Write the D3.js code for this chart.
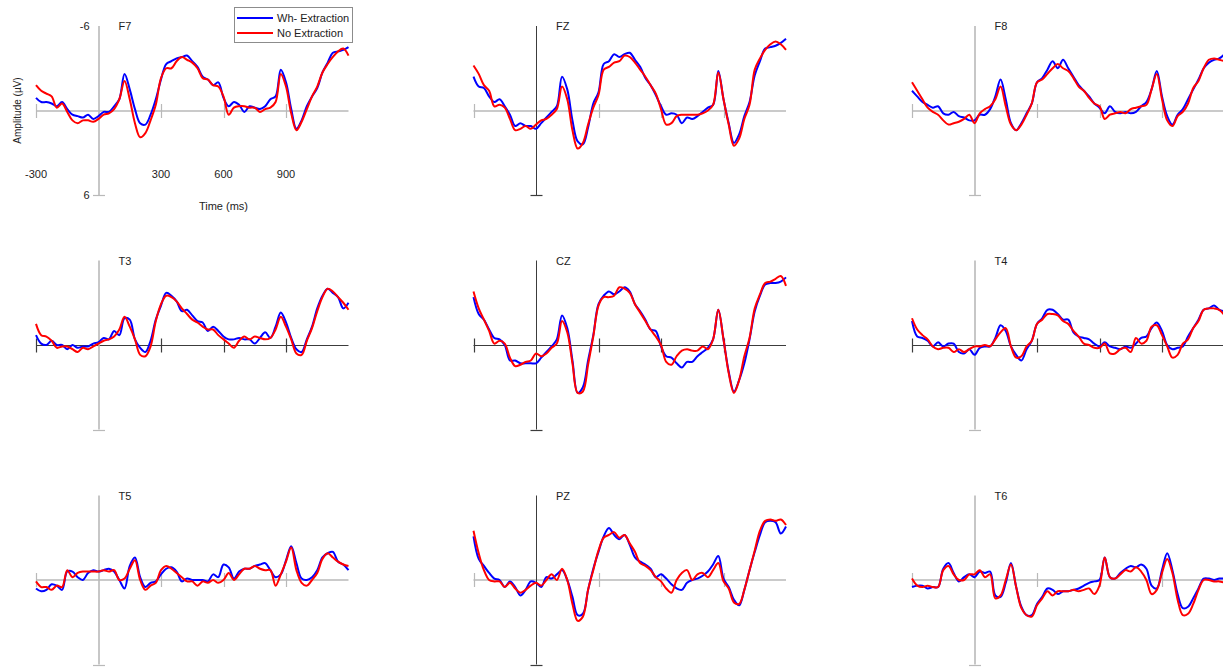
<!DOCTYPE html>
<html>
<head>
<meta charset="utf-8">
<script src="https://cdn.jsdelivr.net/npm/d3@7"></script>
<style>
    body { margin: 0; background: #fff; }
    svg { display: block; font-family: "Liberation Sans", Arial, sans-serif; }
</style>
</head>
<body>
<svg id="chart" width="1223" height="669"></svg>
<script>
// Sampling grid of the averaged waveforms (ms)
const TIMES = d3.range(-300, 1201, 25);

const CHANNELS = ["F7", "FZ", "F8", "T3", "CZ", "T4", "T5", "PZ", "T6"];
const CONDITIONS = ["Wh- Extraction", "No Extraction"];
const X_TICKS = [-300, 300, 600, 900];
const Y_TICKS = [-6, 6];

// Amplitudes in microvolts, one value per TIMES entry (negative is plotted up)
const f7Wh = [-0.9,-0.6,-0.6,-0.5,-0.3,-0.6,-0.1,0.3,0.4,0.5,0.3,0.6,0.4,0.1,0.1,-0.3,-0.8,-2.6,-1.5,-0.1,0.9,1.0,0.3,-0.8,-2.2,-3.3,-3.5,-3.7,-3.8,-3.9,-3.5,-3.1,-2.4,-2.2,-1.8,-2.0,-0.9,-0.3,-0.6,-0.4,0.1,-0.3,-0.2,-0.1,-0.3,-0.8,-1.0,-2.9,-2.0,-0.1,1.3,0.7,-0.3,-1.0,-1.6,-2.7,-3.4,-4.1,-4.2,-4.3,-4.5];
const f7No = [-1.8,-1.4,-1.2,-1.0,-0.2,-0.5,0.1,0.7,0.9,0.7,0.7,0.8,0.6,0.3,0.2,-0.1,-0.8,-2.1,-0.8,0.9,1.9,1.6,0.7,-0.4,-2.3,-3.0,-3.0,-3.5,-3.8,-3.6,-3.4,-3.0,-2.3,-2.2,-1.8,-1.7,-1.0,0.3,-0.2,-0.3,-0.3,-0.2,-0.2,0.1,-0.1,-0.2,-0.6,-2.6,-1.7,0.2,1.4,0.8,-0.1,-1.0,-1.7,-2.7,-3.3,-3.8,-4.2,-4.4,-3.9];
const fzWh = [-2.4,-1.7,-1.6,-1.0,-0.6,-0.8,-0.3,0.3,1.1,0.9,1.1,1.1,1.3,0.9,0.5,0.1,-0.3,-2.4,-1.5,0.7,2.2,2.4,1.2,-0.5,-1.3,-3.3,-3.5,-4.0,-3.8,-4.0,-4.1,-3.6,-3.1,-2.3,-1.8,-1.1,-0.3,0.3,0.2,0.3,0.9,0.5,0.6,0.4,0.1,-0.2,-0.4,-2.8,-0.8,0.9,2.3,1.7,0.4,-0.6,-2.5,-3.5,-4.4,-4.5,-4.6,-4.8,-5.1];
const fzNo = [-3.2,-2.6,-1.8,-1.4,-0.3,-0.4,-0.2,0.6,1.4,1.3,1.1,1.3,1.0,0.7,0.6,0.3,-0.1,-1.7,-0.8,1.4,2.7,2.3,1.0,-0.2,-1.1,-2.9,-3.1,-3.4,-3.5,-3.9,-3.8,-3.4,-2.9,-2.4,-1.8,-1.2,-0.1,1.0,0.9,0.4,0.3,0.3,0.3,0.3,0.2,0.0,-0.4,-2.7,-0.8,1.0,2.5,2.0,0.6,-0.4,-2.9,-3.7,-4.3,-4.7,-4.9,-4.7,-4.3];
const f8Wh = [-1.4,-1.0,-0.6,-0.4,-0.2,-0.3,0.2,0.3,0.1,0.4,0.5,0.7,0.7,0.3,0.3,-0.1,-1.0,-2.2,-0.8,0.9,1.4,0.9,0.2,-0.5,-2.0,-2.3,-2.9,-3.5,-3.0,-3.6,-3.0,-2.4,-1.8,-1.4,-1.0,-0.5,-0.2,0.2,-0.3,0.1,0.2,0.1,0.2,0.1,-0.3,-0.6,-1.5,-2.8,-1.0,0.4,1.0,0.3,-0.1,-0.8,-1.5,-2.2,-3.0,-3.4,-3.6,-3.7,-4.0];
const f8No = [-2.0,-1.4,-0.8,-0.2,0.1,0.3,0.7,1.0,0.9,0.8,0.6,0.3,0.9,0.2,-0.1,-0.3,-0.8,-1.7,-0.3,1.0,1.4,1.0,0.3,-0.5,-2.0,-2.2,-2.6,-3.0,-3.3,-3.0,-2.8,-2.3,-1.7,-1.4,-0.9,-0.5,-0.3,0.6,0.3,0.2,0.1,0.2,-0.1,-0.2,-0.3,-0.4,-1.5,-2.6,-0.8,0.7,1.1,0.4,0.1,-0.5,-1.6,-2.1,-3.0,-3.6,-3.7,-3.6,-3.5];
const t3Wh = [-0.7,-0.1,0.0,-0.3,0.0,0.0,0.3,0.0,0.2,0.1,0.1,-0.1,-0.2,-0.5,-0.4,-1.0,-0.7,-1.9,-1.8,-0.4,0.2,0.5,-0.3,-1.8,-2.8,-3.7,-3.5,-3.1,-2.4,-2.5,-2.1,-1.7,-1.6,-1.0,-1.3,-1.0,-0.6,-0.4,-0.4,-0.5,-0.4,-0.4,-0.1,-0.5,-0.9,-0.5,-1.3,-2.3,-1.6,-0.5,0.3,0.5,-0.4,-1.3,-2.6,-3.5,-4.0,-3.7,-3.4,-2.6,-3.0];
const t3No = [-1.5,-0.7,-0.6,-0.3,0.2,0.1,0.1,0.3,0.5,0.2,0.3,0.1,-0.1,-0.3,-0.4,-0.6,-1.1,-2.0,-1.3,-0.4,0.7,0.8,0.1,-1.7,-2.9,-3.5,-3.4,-3.1,-2.6,-2.2,-1.8,-1.6,-1.3,-1.1,-1.1,-0.7,-0.4,-0.1,0.2,-0.3,-0.6,-0.4,-0.6,-0.5,-0.4,-0.5,-1.1,-2.0,-1.3,-0.4,0.6,0.7,-0.3,-1.2,-2.4,-3.4,-4.0,-3.8,-3.4,-3.0,-2.5];
const czWh = [-3.4,-2.2,-1.8,-1.1,-0.5,-0.4,0.0,1.1,1.1,1.3,1.3,1.3,1.3,0.9,0.5,0.1,-0.4,-2.1,-1.2,1.1,3.4,3.0,1.1,-0.7,-2.9,-3.5,-3.8,-3.6,-3.8,-4.1,-3.8,-2.9,-2.4,-1.8,-1.1,-1.0,0.1,0.8,0.9,1.3,1.6,1.2,1.2,0.8,0.5,0.2,-0.4,-2.5,-0.4,1.9,3.3,2.5,1.3,-0.4,-2.4,-3.5,-4.3,-4.4,-4.4,-4.5,-4.8];
const czNo = [-3.8,-2.6,-1.8,-1.0,-0.1,-0.3,-0.1,0.9,1.5,1.4,1.2,1.1,0.6,0.8,0.6,0.2,-0.1,-1.7,-0.9,1.3,3.4,3.3,1.4,-0.6,-2.8,-3.4,-3.4,-3.5,-4.1,-4.0,-3.7,-2.9,-2.3,-1.7,-1.1,-0.6,0.0,1.2,1.4,0.8,0.4,0.3,0.4,0.4,0.1,0.3,-0.4,-2.5,-0.4,2.0,3.4,2.5,0.8,-0.5,-2.6,-3.6,-4.4,-4.5,-4.7,-4.9,-4.2];
const t4Wh = [-1.7,-0.6,-0.5,-0.3,0.1,-0.2,0.1,-0.1,-0.1,0.5,0.6,0.3,0.7,0.2,0.1,0.1,-0.5,-1.4,-1.0,0.1,0.7,1.1,0.3,-0.3,-1.5,-1.9,-2.5,-2.5,-2.2,-1.8,-1.8,-0.9,-0.6,-0.5,-0.4,-0.1,0.1,-0.2,0.1,0.2,0.3,0.1,0.2,-0.1,-0.5,-0.6,-1.2,-1.6,-1.0,0.0,0.3,0.2,0.1,-0.6,-1.2,-1.8,-2.5,-2.6,-2.8,-2.5,-2.4];
const t4No = [-1.9,-1.1,-0.7,-0.4,0.1,0.3,0.2,0.2,0.5,0.3,0.5,0.3,0.1,0.1,0.0,0.1,-0.4,-0.9,-1.2,0.1,0.9,0.8,0.1,-0.3,-1.5,-1.8,-2.2,-2.2,-2.1,-1.7,-1.5,-1.0,-0.6,-0.1,0.0,0.2,0.2,-0.1,0.6,0.6,0.3,0.2,0.5,-0.5,-0.1,-0.3,-1.3,-1.4,-0.7,0.1,0.9,0.7,-0.1,-0.4,-1.2,-1.7,-2.5,-2.6,-2.6,-2.5,-2.1];
const t5Wh = [0.6,0.8,0.7,0.3,0.4,0.7,-0.6,-0.6,-0.2,0.0,-0.5,-0.7,-0.6,-0.7,-0.8,-0.6,0.0,0.6,-1.0,-1.6,-0.2,0.5,0.2,0.1,-0.4,-0.8,-0.9,-0.6,0.1,-0.1,0.0,0.0,0.0,0.1,-0.4,-0.2,-1.1,-0.9,-0.1,-0.6,-0.8,-0.8,-1.0,-1.1,-1.2,-0.7,-0.2,-0.4,-1.4,-2.4,-1.2,-0.1,0.0,-0.2,-0.7,-1.6,-1.9,-2.0,-1.3,-1.1,-0.7];
const t5No = [0.1,0.5,0.5,0.7,0.4,0.5,-0.7,-0.2,-0.5,-0.6,-0.6,-0.6,-0.6,-0.7,-0.6,-0.7,0.0,-0.1,-0.8,-1.4,0.0,0.7,0.4,0.2,-0.7,-1.0,-0.8,-0.5,-0.2,0.1,0.1,0.4,0.1,0.2,0.0,0.2,0.0,-0.5,0.0,-0.4,-0.8,-0.8,-1.0,-0.8,-0.7,-0.7,0.4,-0.4,-1.3,-2.3,-0.7,0.2,0.4,0.0,-0.5,-1.5,-1.9,-1.6,-1.3,-1.1,-1.0];
const pzWh = [-3.1,-1.5,-1.0,-0.5,-0.1,0.0,0.5,0.1,0.5,1.1,0.7,0.1,0.2,0.5,-0.2,-0.1,-0.4,-0.7,0.0,1.2,2.5,2.4,0.7,-0.8,-2.0,-3.1,-3.7,-3.2,-2.9,-3.2,-2.5,-1.6,-1.3,-1.1,-0.8,-0.2,-0.4,-0.1,0.3,0.6,0.7,0.2,0.0,-0.1,-0.3,-0.6,-1.1,-1.7,-0.1,0.5,1.4,1.8,0.7,-0.7,-2.0,-3.2,-4.1,-4.2,-4.1,-3.3,-3.8];
const pzNo = [-3.5,-1.9,-0.7,0.0,0.1,0.1,0.5,0.2,0.6,0.9,0.7,0.4,0.2,0.4,0.0,-0.4,0.0,-0.8,0.0,1.7,2.9,2.6,0.7,-0.7,-2.1,-3.0,-3.2,-3.4,-3.0,-3.2,-2.6,-2.0,-1.2,-1.0,-0.7,-0.2,0.1,0.6,0.9,0.0,-0.5,-0.7,0.0,-0.4,-0.5,-0.2,-0.7,-1.2,0.1,0.6,1.6,1.7,0.7,-0.7,-2.1,-3.5,-4.2,-4.3,-4.2,-4.3,-3.9];
const t6Wh = [0.5,0.4,0.4,0.6,0.5,0.5,-0.8,-1.2,-0.5,0.1,-0.2,-0.4,-0.2,-0.6,-0.5,-0.6,1.1,1.2,0.2,-1.2,0.5,1.9,2.5,2.5,1.7,1.2,0.6,0.7,1.0,0.8,0.8,0.7,0.6,0.4,0.2,0.1,0.0,-1.6,-0.2,-0.1,-0.5,-0.8,-1.0,-0.9,-1.1,-0.8,0.4,0.6,-0.7,-1.9,-0.7,1.0,2.0,1.9,1.3,0.6,-0.1,-0.1,0.0,-0.1,-0.1];
const t6No = [-0.1,0.4,0.5,0.4,0.5,0.5,-0.7,-1.0,-0.4,0.0,0.0,-0.4,-0.4,-0.7,-0.2,-0.4,1.3,1.1,0.0,-1.1,0.5,2.0,2.5,2.6,1.8,1.3,0.8,1.1,0.8,0.8,0.8,0.7,0.8,0.7,0.6,1.0,0.4,-1.6,-0.2,-0.1,-0.4,-0.7,-0.6,-0.9,-0.6,0.0,1.0,0.7,-0.5,-1.5,-0.5,1.4,2.5,2.4,1.7,0.7,0.0,0.0,0.1,0.1,0.2];

const WAVES = {
    F7: [f7Wh, f7No], FZ: [fzWh, fzNo], F8: [f8Wh, f8No],
    T3: [t3Wh, t3No], CZ: [czWh, czNo], T4: [t4Wh, t4No],
    T5: [t5Wh, t5No], PZ: [pzWh, pzNo], T6: [t6Wh, t6No]
};

const COLORS = ["#0000ff", "#ff0000"];

// Panel geometry
const COL_X0 = [36, 473.5, 912];
const ROW_Y0 = [110.5, 345, 580];
const PANEL_WIDTH = 312.5;
const HALF_HEIGHT = 84.5;
const TICK_HALF = 7;

const AXIS_DARK = { stroke: "#3c3c3c", width: 1 };
const AXIS_LIGHT = { stroke: "#b9b9b9", width: 1.6 };
const TEXT_COLOR = "#222";

const svg = d3.select("#chart");

function drawPanel(channel, idx) {
    const col = idx % 3;
    const row = Math.floor(idx / 3);

    const xScale = d3.scaleLinear()
        .domain([TIMES[0], TIMES[TIMES.length - 1]])
        .range([COL_X0[col], COL_X0[col] + PANEL_WIDTH]);
    const yScale = d3.scaleLinear()
        .domain([Y_TICKS[0], Y_TICKS[1]])
        .range([ROW_Y0[row] - HALF_HEIGHT, ROW_Y0[row] + HALF_HEIGHT]);

    const g = svg.append("g").attr("class", `panel panel-${channel}`);

    // the thin axes come out crisp or blurred depending on row / column
    const xStyle = row === 1 ? AXIS_DARK : AXIS_LIGHT;
    const yStyle = col === 1 ? AXIS_DARK : AXIS_LIGHT;
    const zeroY = Math.round(yScale(0)) + (xStyle === AXIS_DARK ? 0.5 : 0);
    const zeroX = Math.round(xScale(0)) + (yStyle === AXIS_DARK ? 0.5 : 0);

    // Horizontal axis with its ticks
    g.append("line")
        .attr("x1", xScale(TIMES[0])).attr("x2", xScale(TIMES[TIMES.length - 1]))
        .attr("y1", zeroY).attr("y2", zeroY)
        .attr("stroke", xStyle.stroke).attr("stroke-width", xStyle.width);
    g.selectAll(".xtick")
        .data(X_TICKS)
        .join("line")
        .attr("class", "xtick")
        .attr("x1", d => Math.round(xScale(d)) + 0.5).attr("x2", d => Math.round(xScale(d)) + 0.5)
        .attr("y1", zeroY - TICK_HALF).attr("y2", zeroY + TICK_HALF)
        .attr("stroke", xStyle.stroke).attr("stroke-width", 1.2);

    // Vertical axis at stimulus onset, small tick at +6
    g.append("line")
        .attr("x1", zeroX).attr("x2", zeroX)
        .attr("y1", yScale(Y_TICKS[0])).attr("y2", yScale(Y_TICKS[1]))
        .attr("stroke", yStyle.stroke).attr("stroke-width", yStyle.width);
    g.append("line")
        .attr("x1", zeroX - 6).attr("x2", zeroX + 6)
        .attr("y1", Math.round(yScale(Y_TICKS[1])) + 0.5).attr("y2", Math.round(yScale(Y_TICKS[1])) + 0.5)
        .attr("stroke", yStyle.stroke).attr("stroke-width", 1.2);

    g.append("text")
        .attr("x", xScale(0) + 20)
        .attr("y", yScale(Y_TICKS[0]) + 4)
        .attr("font-size", 11)
        .attr("fill", TEXT_COLOR)
        .text(channel);

    const line = d3.line()
        .x((_v, i) => xScale(TIMES[i]))
        .y(v => yScale(v))
        .curve(d3.curveCatmullRom.alpha(0.5));

    g.selectAll(".wave")
        .data(WAVES[channel])
        .join("path")
        .attr("class", "wave")
        .attr("fill", "none")
        .attr("stroke", (_d, i) => COLORS[i])
        .attr("stroke-width", 2)
        .attr("stroke-linejoin", "round")
        .attr("d", line);

    if (idx === 0) {
        drawLabels(g, xScale, yScale);
    }
}

function drawLabels(g, xScale, yScale) {
    const labelY = yScale(0) + 67;

    g.selectAll(".xlabel")
        .data(X_TICKS)
        .join("text")
        .attr("class", "xlabel")
        .attr("x", d => xScale(d))
        .attr("y", labelY)
        .attr("text-anchor", "middle")
        .attr("font-size", 11)
        .attr("fill", TEXT_COLOR)
        .text(d => d);

    g.selectAll(".ylabel")
        .data(Y_TICKS)
        .join("text")
        .attr("class", "ylabel")
        .attr("x", xScale(0) - 9)
        .attr("y", d => yScale(d) + 4)
        .attr("text-anchor", "end")
        .attr("font-size", 11)
        .attr("fill", TEXT_COLOR)
        .text(d => d);

    g.append("text")
        .attr("x", xScale(600))
        .attr("y", yScale(Y_TICKS[1]) + 15)
        .attr("text-anchor", "middle")
        .attr("font-size", 11)
        .attr("fill", TEXT_COLOR)
        .text("Time (ms)");

    g.append("text")
        .attr("transform", `translate(21, ${yScale(0)}) rotate(-90)`)
        .attr("text-anchor", "middle")
        .attr("font-size", 10)
        .attr("fill", TEXT_COLOR)
        .text("Amplitude (\u00b5V)");
}

function drawLegend() {
    const legend = svg.append("g").attr("class", "legend");

    legend.append("rect")
        .attr("x", 234.5).attr("y", 7.5)
        .attr("width", 118).attr("height", 35)
        .attr("fill", "#fff")
        .attr("stroke", "#8c8c8c");

    const items = legend.selectAll(".item")
        .data(CONDITIONS)
        .join("g")
        .attr("class", "item")
        .attr("transform", (_d, i) => `translate(0, ${18 + i * 15})`);

    items.append("line")
        .attr("x1", 237).attr("x2", 273)
        .attr("stroke", (_d, i) => COLORS[i])
        .attr("stroke-width", 2);

    items.append("text")
        .attr("x", 277)
        .attr("y", 4)
        .attr("font-size", 11)
        .attr("fill", TEXT_COLOR)
        .text(d => d);
}

CHANNELS.forEach(drawPanel);
drawLegend();
</script>
</body>
</html>
